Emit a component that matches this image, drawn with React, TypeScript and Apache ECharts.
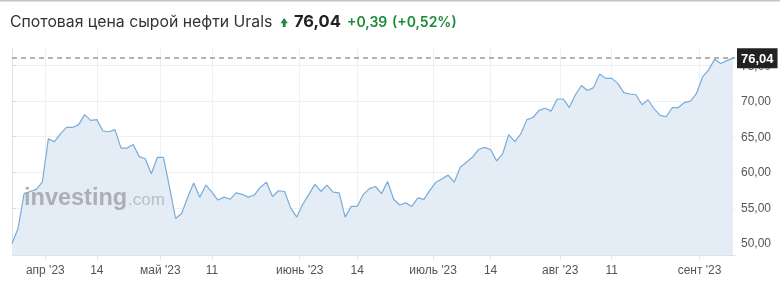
import React, { useEffect, useRef } from "react";
import * as echarts from "echarts";

const titleText = "Спотовая цена сырой нефти Urals";
const lastPriceText = "76,04";
const changeText = "+0,39";
const changePctText = "(+0,52%)";
const lastValue = 76.04;

const values = [
  50.0, 52.1, 57.0, 57.3, 57.6, 58.6, 64.7, 64.3, 65.4, 66.3, 66.3, 66.7, 68.1, 67.3, 67.4, 65.8, 65.7, 66.0, 63.4, 63.4,
  63.9, 62.2, 61.9, 59.8, 62.1, 62.1, 57.9, 53.5, 54.2, 56.5, 58.5, 56.5, 58.2, 57.2, 56.1, 56.5, 56.2, 57.1, 56.9, 56.5,
  56.8, 57.9, 58.6, 56.6, 57.4, 57.3, 55.0, 53.7, 55.5, 56.9, 58.3, 57.3, 58.2, 57.2, 57.1, 53.7, 55.2, 55.2, 56.9, 57.7,
  58.0, 57.0, 58.7, 56.2, 55.4, 55.7, 55.2, 56.4, 56.2, 57.5, 58.6, 59.1, 59.6, 58.6, 60.7, 61.4, 62.1, 63.2, 63.5, 63.2,
  61.6, 62.6, 65.3, 64.3, 65.4, 67.4, 67.7, 68.7, 69.0, 68.6, 70.3, 70.3, 69.1, 70.9, 72.2, 71.5, 71.9, 73.8, 73.2, 73.2,
  72.5, 71.2, 71.0, 70.9, 69.5, 70.2, 68.9, 68.0, 67.8, 69.1, 69.1, 69.8, 70.0, 71.1, 73.4, 74.4, 75.9, 75.3, 75.7, 76.04,
];

const xTickPositions = [5.5, 14, 24.5, 33, 47.5, 57, 69.5, 79, 90.5, 99, 113.5];
const xTickLabels = ["апр '23", "14", "май '23", "11", "июнь '23", "14", "июль '23", "14", "авг '23", "11", "сент '23"];
const yTicks = [50, 55, 60, 65, 70, 75];

const GREEN = "#1b8a3a";

export default function App() {
  const ref = useRef<HTMLDivElement>(null);
  useEffect(() => {
    const chart = echarts.init(ref.current!, null, { renderer: "svg" });
    chart.setOption({
      animation: false,
      grid: { left: 12, right: 45, top: 48, bottom: 51 },
      xAxis: {
        type: "value",
        min: 0,
        max: 119.35,
        axisLine: { show: true, lineStyle: { color: "#dfe3e8", width: 1 } },
        axisTick: { show: true, customValues: xTickPositions, length: 5, lineStyle: { color: "#e3e6ea" } },
        axisLabel: {
          customValues: xTickPositions,
          formatter: (v: number) => {
            const idx = xTickPositions.findIndex((p) => Math.abs(p - v) < 0.01);
            return idx >= 0 ? xTickLabels[idx] : "";
          },
          color: "#555",
          fontSize: 12,
          fontFamily: "Arial",
          margin: 9,
        },
        splitLine: { show: true, lineStyle: { color: "#eef0f3" } },
      },
      yAxis: {
        type: "value",
        position: "right",
        min: 48.37,
        max: 77.47,
        axisLine: { show: true, lineStyle: { color: "#dfe3e8" } },
        axisTick: { show: true, customValues: yTicks, length: 4, lineStyle: { color: "#d5d9de" } },
        axisLabel: {
          customValues: yTicks,
          formatter: (v: number) => v.toFixed(2).replace(".", ","),
          color: "#555",
          fontSize: 12,
          fontFamily: "Arial",
          margin: 6,
        },
        splitLine: { show: true, lineStyle: { color: "#eef0f3" } },
      },
      series: [
        {
          type: "line",
          data: values.map((v, i) => [i, v]),
          showSymbol: false,
          lineStyle: { color: "#78acd9", width: 1.2 },
          areaStyle: { color: "#e4edf5", opacity: 1, origin: "start" },
          markLine: {
            silent: true,
            symbol: "none",
            data: [{ yAxis: lastValue }],
            lineStyle: { type: [5, 4], color: "#9a9a9a", width: 1.6 },
            label: {
              position: "end",
              formatter: lastPriceText,
              backgroundColor: "#222",
              color: "#fff",
              fontWeight: "bold",
              fontSize: 13,
              fontFamily: "Arial",
              padding: [4, 4, 3, 4],
              distance: 2,
            },
          },
        },
      ],
      graphic: [
        { type: "rect", shape: { x: 0, y: 0, width: 780, height: 1.5 }, style: { fill: "#c4c4c4" } },
        {
          type: "text",
          x: 10,
          y: 21,
          style: { text: titleText, fontSize: 15.8, fontFamily: "Inter", fill: "#333", verticalAlign: "middle" },
        },
        {
          type: "polygon",
          shape: { points: [[280.5, 23.2], [284.2, 18], [287.9, 23.2], [285.6, 23.2], [285.6, 27], [282.8, 27], [282.8, 23.2]] },
          style: { fill: GREEN },
        },
        {
          type: "text",
          x: 294,
          y: 21,
          style: { text: lastPriceText, fontSize: 16.5, fontWeight: "bold", fontFamily: "Inter", fill: "#222", verticalAlign: "middle" },
        },
        {
          type: "text",
          x: 347,
          y: 21,
          style: { text: changeText, fontSize: 14, fontWeight: 600, fontFamily: "Inter", fill: GREEN, verticalAlign: "middle" },
        },
        {
          type: "text",
          x: 392,
          y: 21,
          style: { text: changePctText, fontSize: 14, fontWeight: 600, fontFamily: "Inter", fill: GREEN, verticalAlign: "middle" },
        },
        {
          type: "text",
          x: 24,
          y: 197,
          z: 100,
          style: { text: "investing", fontSize: 23.5, fontWeight: "bold", fontFamily: "Arial", fill: "#a4a8ae", opacity: 0.9, verticalAlign: "middle" },
        },
        {
          type: "text",
          x: 128,
          y: 199,
          z: 100,
          style: { text: ".com", fontSize: 17, fontFamily: "Arial", fill: "#b5b9be", opacity: 0.9, verticalAlign: "middle" },
        },
      ],
    });
    return () => chart.dispose();
  }, []);
  return <div ref={ref} style={{ position: "fixed", left: 0, top: 0, width: 780, height: 306 }} />;
}
